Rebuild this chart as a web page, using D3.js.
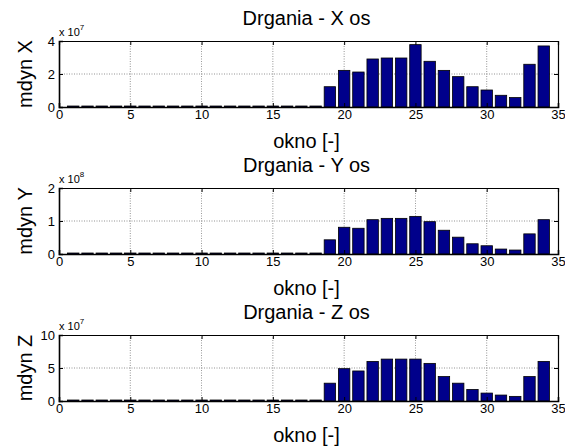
<!DOCTYPE html>
<html><head><meta charset="utf-8">
<script src="https://cdn.jsdelivr.net/npm/d3@7"></script>
<style>
body{margin:0;background:#fff;}
svg{display:block;}
text{font-family:"Liberation Sans",Arial,Helvetica,sans-serif;fill:#000;}
</style></head>
<body>
<svg id="c" width="565" height="448"></svg>
<script>
const windows = d3.range(1, 35);
const xTicks = [0, 5, 10, 15, 20, 25, 30, 35];
const titles = ["Drgania - X os", "Drgania - Y os", "Drgania - Z os"];
const yLabels = ["mdyn X", "mdyn Y", "mdyn Z"];
const exponents = ["7", "8", "7"];
const yMax = [4, 2, 10];
const yTicksX = [0, 2, 4];
const yTicksY = [0, 1, 2];
const yTicksZ = [0, 5, 10];
// values in units of 10^exponent
const valuesX = [0.06,0.06,0.06,0.06,0.06,0.06,0.06,0.06,0.06,0.06,0.06,0.06,0.06,0.06,0.06,0.06,0.06,0.06,
  1.23,2.22,2.12,2.91,2.97,2.97,3.78,2.77,2.22,1.84,1.23,1.03,0.71,0.57,2.59,3.70];
const valuesY = [0.03,0.03,0.03,0.03,0.03,0.03,0.03,0.03,0.03,0.03,0.03,0.03,0.03,0.03,0.03,0.03,0.03,0.03,
  0.43,0.81,0.78,1.04,1.08,1.08,1.14,0.98,0.72,0.51,0.31,0.25,0.15,0.12,0.61,1.04];
const valuesZ = [0.15,0.15,0.15,0.15,0.15,0.15,0.15,0.15,0.15,0.15,0.15,0.15,0.15,0.15,0.15,0.15,0.15,0.15,
  2.7,4.9,4.55,6.0,6.35,6.35,6.35,5.7,3.7,2.7,1.75,1.2,0.9,0.7,3.7,6.0];

const series = [valuesX, valuesY, valuesZ];
const yTicksAll = [yTicksX, yTicksY, yTicksZ];

const svg = d3.select("#c");
const left = 59, right = 558;
const tops = [41, 188, 335];
const h = 66;
const x = d3.scaleLinear().domain([0, 35]).range([left, right]);

series.forEach((vals, i) => {
  const top = tops[i], bottom = top + h;
  const y = d3.scaleLinear().domain([0, yMax[i]]).range([bottom, top]);
  const g = svg.append("g");
  g.append("rect").attr("x", left).attr("y", top).attr("width", right - left).attr("height", h).attr("fill", "#fff");
  // grid
  g.selectAll(".gx").data(xTicks.slice(1, -1)).join("line")
    .attr("x1", d => x(d)).attr("x2", d => x(d)).attr("y1", top).attr("y2", bottom)
    .attr("stroke", "#000").attr("stroke-width", 0.7).attr("stroke-dasharray", "1,1.5").attr("opacity", 0.6);
  g.selectAll(".gy").data(yTicksAll[i].slice(1, -1)).join("line")
    .attr("y1", d => y(d)).attr("y2", d => y(d)).attr("x1", left).attr("x2", right)
    .attr("stroke", "#000").attr("stroke-width", 0.7).attr("stroke-dasharray", "1,1.5").attr("opacity", 0.6);
  // bars
  const bw = x(0.8) - x(0);
  g.selectAll(".bar").data(vals).join("rect")
    .attr("x", (d, j) => x(windows[j]) - bw / 2).attr("width", bw)
    .attr("y", d => y(d)).attr("height", d => bottom - y(d))
    .attr("fill", "#00008B").attr("stroke", "#000").attr("stroke-width", 0.8);
  // axes
  const ax = d3.axisBottom(x).tickValues(xTicks).tickSize(-4).tickPadding(3).tickFormat(d3.format("d"));
  const axB = g.append("g").attr("transform", `translate(0,${bottom})`).call(ax);
  const axT = g.append("g").attr("transform", `translate(0,${top})`).call(d3.axisTop(x).tickValues(xTicks).tickSize(-4).tickFormat(""));
  const ayL = g.append("g").attr("transform", `translate(${left},0)`).call(d3.axisLeft(y).tickValues(yTicksAll[i]).tickSize(-4).tickPadding(4).tickFormat(d3.format("d")));
  const ayR = g.append("g").attr("transform", `translate(${right},0)`).call(d3.axisRight(y).tickValues(yTicksAll[i]).tickSize(-4).tickFormat(""));
  [axB, axT, ayL, ayR].forEach(a => {
    a.select(".domain").attr("stroke", "#000").attr("stroke-width", 1.2);
    a.selectAll(".tick line").attr("stroke", "#000");
    a.selectAll("text").attr("font-size", 13).attr("font-family", "Liberation Sans, Arial, sans-serif");
  });
  ayL.select(".domain").attr("stroke-width", 1.6);
  axB.select(".domain").attr("stroke-width", 1.6);
  // title
  svg.append("text").attr("x", (left + right) / 2 - 2).attr("y", top - 16)
    .attr("text-anchor", "middle").attr("font-size", 20).text(titles[i]);
  // x label
  svg.append("text").attr("x", (left + right) / 2 - 2).attr("y", bottom + 41)
    .attr("text-anchor", "middle").attr("font-size", 20).text("okno [-]");
  // y label
  svg.append("text").attr("transform", `translate(32,${(top + bottom) / 2}) rotate(-90)`)
    .attr("text-anchor", "middle").attr("font-size", 20).text(yLabels[i]);
  // exponent
  const ex = svg.append("text").attr("x", left).attr("y", top - 5).attr("font-size", 11).attr("fill", "#000");
  ex.append("tspan").attr("fill", "#000").text("x 10");
  ex.append("tspan").attr("dy", -6).attr("font-size", 8).attr("fill", "#000").text(exponents[i]);
});
</script>
</body></html>
